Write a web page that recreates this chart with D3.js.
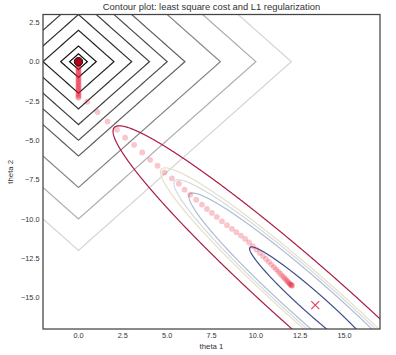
<!DOCTYPE html>
<html lang="en">
<head>
    <meta charset="UTF-8">
    <title>Contour plot: least square cost and L1 regularization</title>
    <style>
        body { margin: 0; background: #fff; }
        svg text { font-family: "Liberation Sans", Arial, sans-serif; fill: #333; }
    </style>
    <script src="https://d3js.org/d3.v7.min.js"></script>
</head>
<body>
<svg id="chart" width="396" height="355"></svg>
<script>
    // axis ticks
    const xTicks = [0, 2.5, 5, 7.5, 10, 12.5, 15];
    const yTicks = [2.5, 0, -2.5, -5, -7.5, -10, -12.5, -15];

    // contour levels
    const l1Levels = [0.5, 1, 2, 3, 4, 5, 6, 8, 10, 12];
    const lsqLevels = [27, 100, 125, 150, 256];

    // least squares minimum (the x marker) and shape of the cost bowl
    const lsqMin = [13.35, -15.48];
    const lsqAxisRatio = 8;   // long axis / short axis

    // gradient descent path (theta 1, theta 2)
    const pathT1 = [
        0, 0, 0, 0, 0, 0, 0, 0, 0, 0, 0, 0, 0, 0, 0,
        0, 0, 0, 0, 0, 0, 0, 0, 0, 0, 0, 0, 0, 0, 0,
        0.5, 1.07, 1.64, 2.17, 2.63, 3.14, 3.59, 4.04, 4.46, 4.85,
        5.27, 5.66, 5.98, 6.3, 6.64, 6.96, 7.24, 7.52, 7.8, 8.09,
        8.37, 8.65, 8.9, 9.16, 9.4, 9.62, 9.83, 10.03, 10.22, 10.4,
        10.57, 10.73, 10.88, 11.02, 11.15, 11.27, 11.38, 11.48, 11.57, 11.65,
        11.72, 11.79, 11.85, 11.9, 11.95, 11.99, 12.02, 12.04
    ];
    const pathT2 = [
        0, -0.08, -0.16, -0.24, -0.32, -0.4, -0.48, -0.56, -0.64, -0.72,
        -0.8, -0.88, -0.96, -1.04, -1.12, -1.2, -1.28, -1.36, -1.44, -1.52,
        -1.6, -1.68, -1.76, -1.84, -1.92, -2.0, -2.08, -2.16, -2.24, -2.3,
        -2.55, -3.2, -3.8, -4.33, -4.83, -5.29, -5.77, -6.24, -6.62, -7.04,
        -7.42, -7.76, -8.14, -8.46, -8.78, -9.09, -9.37, -9.62, -9.87, -10.15,
        -10.4, -10.63, -10.84, -11.06, -11.27, -11.5, -11.73, -11.95, -12.16, -12.36,
        -12.55, -12.73, -12.9, -13.06, -13.21, -13.35, -13.48, -13.6, -13.71, -13.81,
        -13.9, -13.98, -14.05, -14.11, -14.16, -14.2, -14.23, -14.25
    ];

    const width = 396, height = 355;
    const margin = {top: 14.5, right: 16, bottom: 26, left: 43};

    const x = d3.scaleLinear().domain([-2, 17]).range([margin.left, width - margin.right]);
    const y = d3.scaleLinear().domain([-17, 3]).range([height - margin.bottom, margin.top]);

    const svg = d3.select("#chart");

    svg.append("clipPath").attr("id", "plotClip")
        .append("rect")
        .attr("x", margin.left).attr("y", margin.top)
        .attr("width", width - margin.left - margin.right)
        .attr("height", height - margin.top - margin.bottom);

    const plot = svg.append("g").attr("clip-path", "url(#plotClip)");

    // grid a bit larger than the view so contour edges fall outside the clip
    const step = 0.04, gx0 = -3, gy0 = -18;
    const nx = Math.round(21 / step) + 1, ny = Math.round(22 / step) + 1;

    function l1Cost(t1, t2) {
        return Math.abs(t1) + Math.abs(t2);
    }
    function lsqCost(t1, t2) {
        const dx = t1 - lsqMin[0], dy = t2 - lsqMin[1];
        const u = (dx - dy) / Math.SQRT2, v = (dx + dy) / Math.SQRT2;
        return u * u + lsqAxisRatio * lsqAxisRatio * v * v;
    }

    function grid(f) {
        const values = new Float64Array(nx * ny);
        for (let j = 0; j < ny; j++) {
            for (let i = 0; i < nx; i++) {
                values[j * nx + i] = f(gx0 + i * step, gy0 + j * step);
            }
        }
        return values;
    }

    const gridPath = d3.geoPath(d3.geoTransform({
        point: function(gi, gj) {
            this.stream.point(x(gx0 + (gi - 0.5) * step), y(gy0 + (gj - 0.5) * step));
        }
    }));

    const greys = d3.scaleLinear().domain([0.5, 6, 12]).range(["#0a0a0a", "#5e5e5e", "#d4d4d4"]);
    const lsqColor = d3.scaleOrdinal()
        .domain(lsqLevels)
        .range(["#3d4d8f", "#aebcd0", "#d3dae0", "#e6dfc6", "#ab1a42"]);

    const l1Contours = d3.contours().size([nx, ny]).thresholds(l1Levels)(grid(l1Cost));
    plot.append("g").selectAll("path")
        .data(l1Contours)
        .join("path")
        .attr("d", gridPath)
        .attr("fill", "none")
        .attr("stroke", d => greys(d.value))
        .attr("stroke-width", 1.2);

    const lsqContours = d3.contours().size([nx, ny]).thresholds(lsqLevels)(grid(lsqCost));
    plot.append("g").selectAll("path")
        .data(lsqContours)
        .join("path")
        .attr("d", gridPath)
        .attr("fill", "none")
        .attr("stroke", d => lsqColor(d.value))
        .attr("stroke-width", 1.2);

    // descent path
    const pts = pathT1.map((t1, i) => ({t1, t2: pathT2[i]}));
    plot.append("g").selectAll("circle")
        .data(pts)
        .join("circle")
        .attr("cx", d => x(d.t1))
        .attr("cy", d => y(d.t2))
        .attr("r", 2.9)
        .attr("fill", "#e8102e")
        .attr("fill-opacity", 0.24);

    // starting point
    plot.append("circle")
        .attr("cx", x(pts[0].t1)).attr("cy", y(pts[0].t2))
        .attr("r", 4.2)
        .attr("fill", "#b3001b")
        .attr("stroke", "#111")
        .attr("stroke-width", 1);

    // least squares minimum
    const mx = x(lsqMin[0]), my = y(lsqMin[1]);
    plot.append("path")
        .attr("d", `M${mx - 4},${my - 4}L${mx + 4},${my + 4}M${mx - 4},${my + 4}L${mx + 4},${my - 4}`)
        .attr("stroke", "#e03a5e")
        .attr("stroke-width", 1.1);

    // frame
    svg.append("rect")
        .attr("x", margin.left).attr("y", margin.top)
        .attr("width", width - margin.left - margin.right)
        .attr("height", height - margin.top - margin.bottom)
        .attr("fill", "none")
        .attr("stroke", "#444")
        .attr("stroke-width", 1.25);

    const fmt = v => d3.format(".1f")(v).replace("-", "\u2212");

    svg.append("g").selectAll("text")
        .data(xTicks)
        .join("text")
        .attr("x", d => x(d))
        .attr("y", height - margin.bottom + 8.5)
        .attr("text-anchor", "middle")
        .attr("font-size", 7.3)
        .text(fmt);

    svg.append("g").selectAll("text")
        .data(yTicks)
        .join("text")
        .attr("x", margin.left - 3.5)
        .attr("y", d => y(d) + 2.6)
        .attr("text-anchor", "end")
        .attr("font-size", 7.3)
        .text(fmt);

    svg.append("text")
        .attr("x", (margin.left + width - margin.right) / 2)
        .attr("y", 9.5)
        .attr("text-anchor", "middle")
        .attr("font-size", 9.4)
        .text("Contour plot: least square cost and L1 regularization");

    svg.append("text")
        .attr("x", (margin.left + width - margin.right) / 2)
        .attr("y", 348.5)
        .attr("text-anchor", "middle")
        .attr("font-size", 7.8)
        .text("theta 1");

    svg.append("text")
        .attr("transform", `translate(12.5,${(margin.top + height - margin.bottom) / 2}) rotate(-90)`)
        .attr("text-anchor", "middle")
        .attr("font-size", 7.8)
        .text("theta 2");
</script>
</body>
</html>
